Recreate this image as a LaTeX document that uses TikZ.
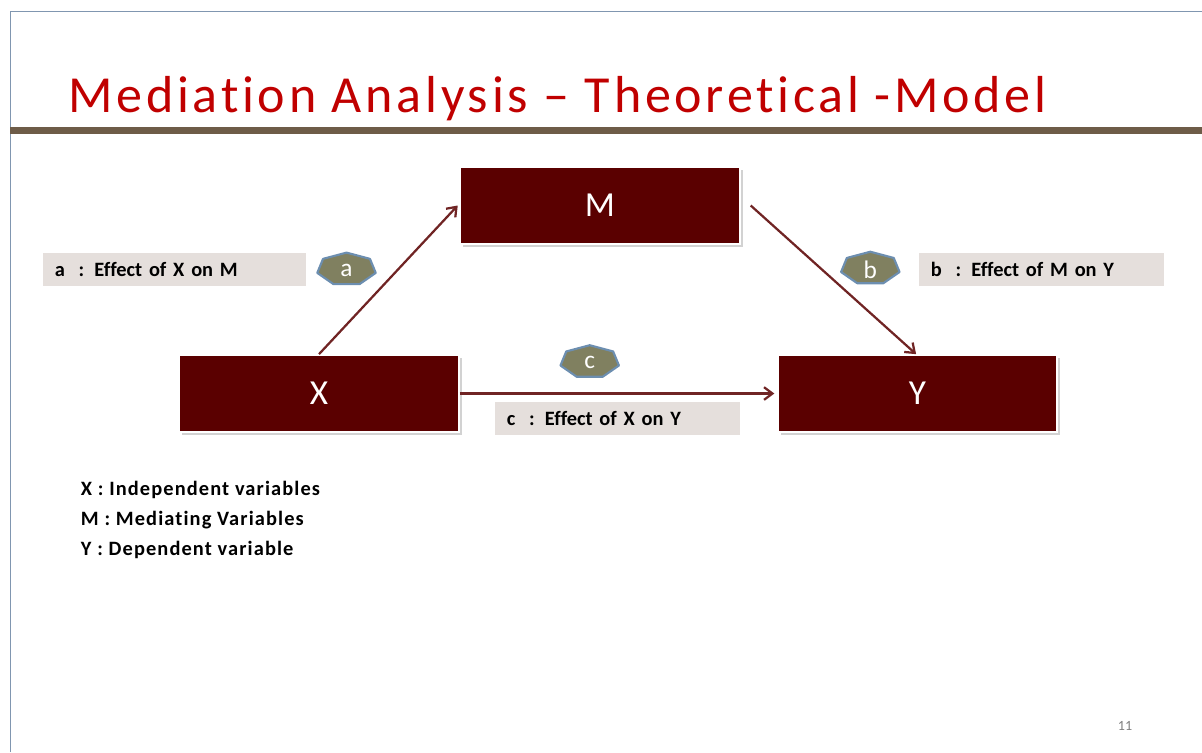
\documentclass[tikz,border=0pt]{standalone}
\usepackage{fontspec}
\setmainfont{Carlito}[Ligatures=NoCommon]
\newfontfamily\titlefont{Carlito}[Ligatures=NoCommon, LetterSpace=7.2]
\newfontfamily\legendfont{Carlito}[Ligatures=NoCommon, LetterSpace=5.5]
\usepackage{xcolor}
\usepackage{tikz}
\usetikzlibrary{positioning,calc,arrows.meta,shadows}
\definecolor{BoxRed}{RGB}{90,0,0}
\definecolor{ArrowRed}{RGB}{112,36,36}
\definecolor{TitleRed}{RGB}{192,0,0}
\definecolor{RuleBrown}{RGB}{110,92,72}
\definecolor{FrameBlue}{RGB}{128,150,176}
\definecolor{LabelGrey}{RGB}{229,223,220}
\definecolor{BadgeOlive}{RGB}{128,128,96}
\definecolor{BadgeEdge}{RGB}{108,142,176}

\begin{document}
\begin{tikzpicture}[x=0.025cm, y=-0.025cm,
    % Style hộp biến (X, M, Y)
    varbox/.style={rectangle, draw=white, line width=1.2pt, fill=BoxRed, text=white,
        font=\fontsize{25}{28}\selectfont, minimum width=7cm, minimum height=1.925cm,
        drop shadow={shadow xshift=2pt, shadow yshift=-2pt, fill=black!35}},
    % Style mũi tên
    edge/.style={draw=ArrowRed, line width=1.6pt, -{Straight Barb[length=6pt,width=9pt]}},
    % Style nhãn hiệu ứng
    effbox/.style={rectangle, fill=LabelGrey, font=\bfseries\fontsize{14.5}{17}\selectfont,
        minimum height=0.825cm, inner xsep=0.3cm, align=left},
    % Style hình bảy cạnh
    badgeshape/.style={fill=BadgeOlive, draw=BadgeEdge, line width=1.5pt, line join=round},
    badgetext/.style={text=white, font=\fontsize{18}{20}\selectfont},
    % Style chú thích
    legend/.style={anchor=west, font=\legendfont\bfseries\fontsize{14.5}{17}\selectfont}
  ]
  \useasboundingbox (0,0) rectangle (1202,752);

  % --- KHUNG TRANG ---
  \draw[FrameBlue, line width=0.6pt] (10,752) -- (10,11) -- (1202,11);
  \draw[RuleBrown, line width=5pt] (10,130.5) -- (1202,130.5);
  \node[anchor=base west, text=TitleRed, font=\titlefont\fontsize{37}{40}\selectfont, inner sep=0pt]
    (title) at (68,112) {Mediation Analysis – Theoretical -Model};

  % --- HỘP BIẾN ---
  \node[varbox] (m) at (600,205.5) {M};
  \node[varbox] (x) at (319,393.5) {X};
  \node[varbox, minimum width=6.975cm] (y) at (917.5,393.5) {Y};

  % --- MŨI TÊN ---
  \draw[edge] (x.north) -- ([xshift=-1pt]m.west);
  \draw[edge] ([xshift=7pt]m.east) -- ([xshift=-1pt]y.north);
  \draw[edge] (x.east) -- ([xshift=-2pt]y.west);

  % --- HÌNH BẢY CẠNH a, b, c ---
  \foreach \bx/\by/\bt in {346.5/269.2/a, 870.3/268.3/b, 589.7/361.8/c}{
    \draw[badgeshape] plot[samples at={0,...,6}]
      ({\bx+30*cos(\x*360/7-90)},{\by+16.6*sin(\x*360/7-90)}) -- cycle;
    \node[badgetext] (b\bt) at (\bx,\by+1) {\bt};
  }

  % --- NHÃN HIỆU ỨNG ---
  \node[effbox, text width=5.975cm] (la) at (174.5,269.5) {a~ : Effect of X on M};
  \node[effbox, text width=5.525cm] (lb) at (1041.5,269.5) {b~ : Effect of M on Y};
  \node[effbox, text width=5.525cm] (lc) at (617.5,418) {c~ : Effect of X on Y};

  % --- CHÚ THÍCH ---
  \node[legend] (lx) at (76,490) {X : Independent variables};
  \node[legend] (lm) at (76,520) {M : Mediating Variables};
  \node[legend] (ly) at (76,550) {Y : Dependent variable};

  % số trang
  \node[text=black!50, font=\fontsize{10}{12}\selectfont] (page) at (1125,726) {11};
\end{tikzpicture}
\end{document}
